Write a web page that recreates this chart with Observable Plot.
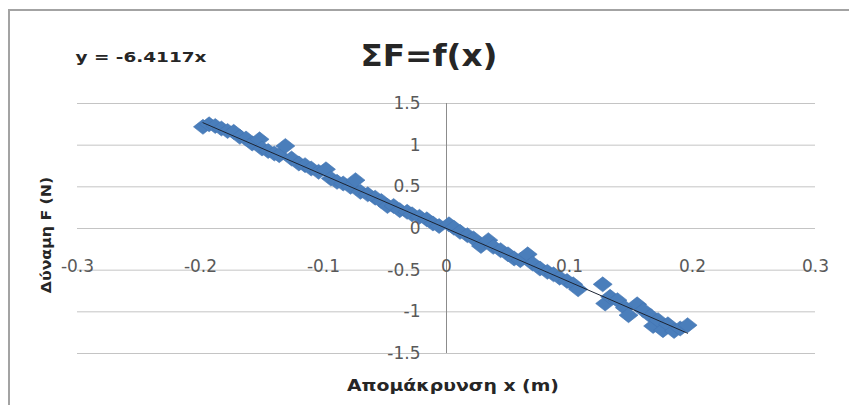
<!DOCTYPE html>
<html><head><meta charset="utf-8">
<script src="https://cdn.jsdelivr.net/npm/d3@7"></script>
<script src="https://cdn.jsdelivr.net/npm/@observablehq/plot@0.6"></script>
<style>
html,body{margin:0;padding:0;background:#fff;overflow:hidden;width:849px;height:405px}
#wrap{position:relative;width:849px;height:405px;overflow:hidden}
#frame{position:absolute;left:8px;top:9px;width:900px;height:500px;border:2px solid #a3a3a3;box-sizing:border-box}
#chart{position:absolute;left:0;top:0}
.lbl{position:absolute;font-family:"DejaVu Sans";font-weight:bold;white-space:nowrap;color:#262626;line-height:1}
</style></head><body>
<div id="wrap"><div id="frame"></div><div id="chart"></div>
<div class="lbl" id="eq">y = -6.4117x</div>
<div class="lbl" id="title">ΣF=f(x)</div>
<div class="lbl" id="ylab">Δύναμη F (N)</div>
<div class="lbl" id="xlab">Απομάκρυνση x (m)</div>
</div>
<script>
const titleText = "ΣF=f(x)";
const equationText = "y = -6.4117x";
const xLabel = "Απομάκρυνση x (m)";
const yLabel = "Δύναμη F (N)";
const slope = -6.4117;
const xTicks = [-0.3, -0.2, -0.1, 0, 0.1, 0.2, 0.3];
const yTicks = [-1.5, -1, -0.5, 0, 0.5, 1, 1.5];
const xs = [-0.198,-0.193,-0.188,-0.183,-0.178,-0.173,-0.168,-0.163,-0.158,-0.152,-0.150,-0.145,-0.140,-0.136,-0.131,-0.126,-0.120,-0.115,-0.110,-0.104,-0.098,-0.094,-0.089,-0.084,-0.078,-0.074,-0.070,-0.064,-0.058,-0.053,-0.048,-0.043,-0.038,-0.032,-0.028,-0.022,-0.016,-0.011,-0.006,0.002,0.006,0.011,0.017,0.022,0.028,0.034,0.038,0.044,0.050,0.055,0.060,0.066,0.070,0.076,0.082,0.087,0.092,0.098,0.103,0.107,0.127,0.129,0.133,0.139,0.145,0.148,0.155,0.160,0.166,0.168,0.172,0.176,0.180,0.185,0.190,0.196];
const ys = [1.22,1.25,1.23,1.20,1.17,1.16,1.10,1.08,1.02,1.07,0.96,0.93,0.90,0.88,0.99,0.84,0.78,0.76,0.72,0.68,0.71,0.60,0.56,0.54,0.50,0.58,0.44,0.41,0.37,0.33,0.27,0.27,0.22,0.20,0.17,0.14,0.11,0.06,0.03,0.05,0.01,-0.04,-0.08,-0.12,-0.21,-0.14,-0.22,-0.26,-0.31,-0.36,-0.38,-0.31,-0.42,-0.48,-0.52,-0.55,-0.59,-0.63,-0.67,-0.73,-0.67,-0.90,-0.82,-0.86,-0.95,-1.04,-0.91,-0.98,-1.05,-1.17,-1.10,-1.22,-1.15,-1.23,-1.20,-1.16];

const pts = xs.map((x, i) => ({x, y: ys[i]}));
const trend = [d3.min(xs), d3.max(xs)].map(x => ({x, y: slope * x}));
const fmt = d => String(d);

// Excel-style diamond marker (appears slightly wide in the stretched reference)
const wideDiamond = {
  draw(ctx) {
    const hw = 9.5, hh = 7.5;
    ctx.moveTo(0, -hh); ctx.lineTo(hw, 0); ctx.lineTo(0, hh); ctx.lineTo(-hw, 0); ctx.closePath();
  }
};

const chart = Plot.plot({
  width: 849, height: 405,
  marginLeft: 77, marginRight: 34, marginTop: 103, marginBottom: 52,
  x: {domain: [-0.3, 0.3], axis: null},
  y: {domain: [-1.5, 1.5], axis: null},
  style: {fontFamily: "DejaVu Sans", fontSize: "17px", background: "transparent", overflow: "visible"},
  marks: [
    Plot.ruleY(yTicks, {y: d => d, stroke: "#c4c4c4", strokeWidth: 1}),
    Plot.ruleX([0], {x: d => d, stroke: "#8c8c8c", strokeWidth: 1}),
    Plot.dot(pts, {x: "x", y: "y", symbol: wideDiamond, r: 6, fill: "#4a7ebb", stroke: "#4274b2", strokeWidth: 0.6}),
    Plot.line(trend, {x: "x", y: "y", stroke: "#1c2433", strokeWidth: 1}),
    Plot.text(yTicks, {x: () => 0, y: d => d, text: fmt, textAnchor: "end", dx: -26, fill: "#595959"}),
    Plot.text(xTicks, {x: d => d, y: () => 0, text: fmt, dy: 38, fill: "#595959"})
  ]
});
document.getElementById("chart").appendChild(chart);

function place(id, text, cx, cy, size, targetW, rot) {
  const el = document.getElementById(id);
  el.textContent = text;
  el.style.fontSize = size + "px";
  const w = el.offsetWidth;
  const k = targetW / w;
  el.style.left = cx + "px";
  el.style.top = cy + "px";
  el.style.transform = "translate(-50%,-50%)" + (rot ? " rotate(-90deg)" : "") + " scaleX(" + k + ")";
}
place("title", titleText, 429, 56, 30, 137, false);
place("eq", equationText, 141, 57, 14.5, 131, false);
place("xlab", xLabel, 453, 386, 16, 212, false);
place("ylab", yLabel, 46, 235, 14.5, 116, true);
</script>
</body></html>
